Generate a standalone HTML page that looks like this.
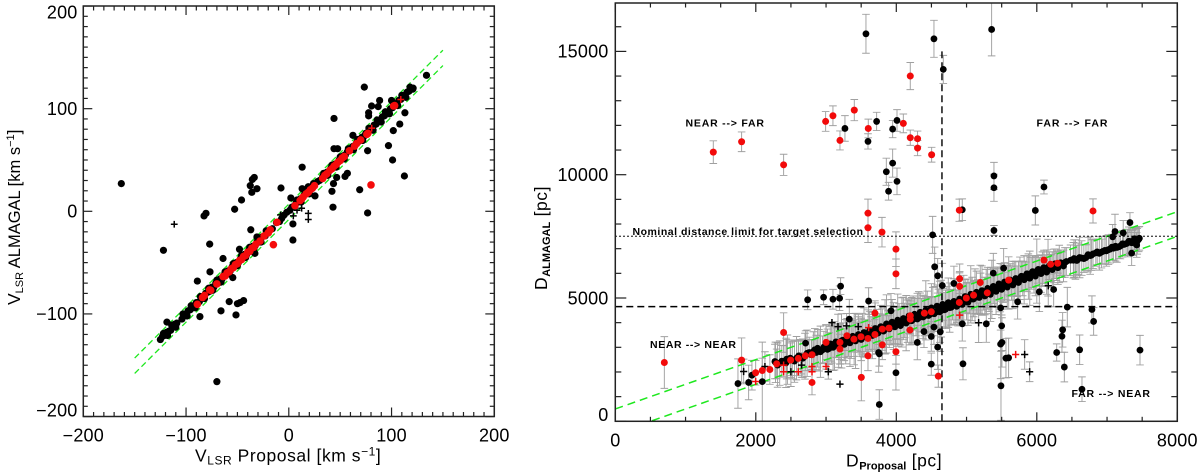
<!DOCTYPE html>
<html lang="en">
<head>
<meta charset="utf-8">
<title>VLSR and distance comparison</title>
<style>
html,body{margin:0;padding:0;background:#fff;width:1200px;height:476px;overflow:hidden}
svg{display:block;filter:blur(.35px)}
text{font-family:"Liberation Sans",sans-serif;fill:#000}
.tick{font-size:18px;letter-spacing:.2px}
.title{font-size:17.5px;letter-spacing:.55px}
.title-tight{font-size:17.5px;letter-spacing:0}
.note{font-size:10.5px;font-weight:bold}
</style>
</head>
<body>
<svg id="chart" xmlns="http://www.w3.org/2000/svg" width="1200" height="476" viewBox="0 0 1200 476">
  <defs>
    <clipPath id="clip-left"><rect x="83.3" y="6" width="411" height="410.5"/></clipPath>
    <clipPath id="clip-right"><rect x="615.3" y="3" width="562" height="418.3"/></clipPath>
  </defs>
  <g id="left-panel">
    <g id="left-lines" clip-path="url(#clip-left)"></g>
    <g id="left-points" clip-path="url(#clip-left)"></g>
    <rect x="83.3" y="6" width="411" height="410.5" fill="none" stroke="#222" stroke-width="1.5"/>
    <g id="left-ticks"></g>
    <text class="title" x="195" y="461.5">V<tspan font-size="12" dy="3">LSR</tspan><tspan dy="-3"> Proposal [km s</tspan><tspan font-size="12" dy="-6">−1</tspan><tspan dy="6">]</tspan></text>
    <text class="title-tight" transform="translate(20,305) rotate(-90)" x="0" y="0">V<tspan font-size="11" dy="3">LSR</tspan><tspan font-size="16.5" dy="-3"> ALMAGAL [km s</tspan><tspan font-size="11" dy="-6">−1</tspan><tspan dy="6">]</tspan></text>
  </g>
  <g id="right-panel">
    <g id="right-bars" clip-path="url(#clip-right)"></g>
    <g id="right-lines" clip-path="url(#clip-right)"></g>
    <g id="right-points" clip-path="url(#clip-right)"></g>
    <rect x="615.3" y="3" width="562" height="418.3" fill="none" stroke="#222" stroke-width="1.5"/>
    <g id="right-ticks"></g>
    <text class="note" x="685.5" y="126.5" textLength="78.5">NEAR --&gt; FAR</text>
    <text class="note" x="1036.5" y="126.5" textLength="71">FAR --&gt; FAR</text>
    <text class="note" x="650" y="348" textLength="86">NEAR --&gt; NEAR</text>
    <text class="note" x="1071.5" y="397" textLength="78.5">FAR --&gt; NEAR</text>
    <text class="note" x="632.5" y="235" textLength="230.5">Nominal distance limit for target selection</text>
    <text class="title" x="846" y="466.7">D<tspan font-size="11" font-weight="bold" letter-spacing="0" dy="3">Proposal</tspan><tspan dy="-3"> [pc]</tspan></text>
    <text class="title" transform="translate(547,290) rotate(-90)" x="0" y="0">D<tspan font-size="11" font-weight="bold" letter-spacing="0" dy="3">ALMAGAL</tspan><tspan dy="-3"> [pc]</tspan></text>
  </g>
</svg>
<script>
// ---------- left panel data: velocities, km/s ----------
const velTickLabels = [-200, -100, 0, 100, 200];
const velBandProposal = [-125,-123,-121,-119,-117,-115,-113,-111,-109,-104,-102,-100,-98,-96,-94,-92,-90,-87,-85,-83,-81,-79,-77,-75,-73,-71,-69,-67,-65,-63,-61,-59,-57,-55,-53,-51,-49,-47,-45,-43,-41,-39,-37,-35,-33,-31,-29,-26,-23,-20,-16,-12,-9,-5,-2,1,3,5,7,9,11,13,15,17,19,21,23,25,28,30,33,35,37,39,41,43,45,47,49,51,53,55,57,60,62,64,66,68,71,73,75,77,79,81,83,85,87,89,91,93,95,97,99,101,103,105,107,109,111,113,115,117,119,121];
const velBandAlmagal = [-125,-122,-121,-118,-117,-116,-112,-110,-109,-105,-101,-100,-97,-96,-93,-93,-89,-88,-84,-84,-80,-79,-78,-74,-74,-70,-70,-66,-66,-62,-62,-58,-58,-54,-54,-50,-50,-46,-46,-42,-42,-38,-38,-34,-34,-30,-30,-25,-24,-19,-17,-11,-10,-4,-1,1,4,5,8,9,12,13,16,17,20,21,24,25,29,30,34,35,38,39,42,43,46,47,50,51,54,55,58,60,63,64,67,68,72,73,76,77,80,81,84,85,88,89,92,93,96,97,100,101,104,105,108,109,112,113,116,117,120,120];
const velBand2Proposal = [-122,-118,-114,-110,-103,-99,-95,-91,-86,-82,-78,-74,-70,-66,-62,-58,-54,-50,-46,-42,-38,-34,-30,-27,-22,8,12,16,20,24,34,38,42,46,50,54,58,63,67,72,78,82,86,90,94,98,102,106,110,114,118];
const velBand2Almagal = [-119,-121,-111,-113,-100,-102,-92,-94,-83,-85,-75,-77,-67,-69,-59,-61,-51,-53,-43,-45,-35,-37,-27,-30,-19,11,9,19,17,27,37,35,45,43,53,51,61,60,70,69,81,79,89,87,97,95,105,103,113,111,121];
const velOutProposal = [-163,-122,-118.6,-70,-89,-86.5,-82.5,-80.6,-77,-76.7,-66,-64,-58,-54.5,-52.7,-51.4,-50,-47.5,-44,-48,-46,-37.5,-36,-35.5,-33.6,-31,-37,-33,-31,-7.6,-7,2,4,4,13,13,19,25.5,43,42,43.5,44,44,47.5,46.6,54.7,57,62.4,69,73.5,76.7,76.7,77.7,77.7,80.6,87,88.4,97,100,101.7,101,108,113,112.5,134,120.6];
const velOutAlmagal = [27,-38,-108,-166,-68,-102.6,-4.5,-2,-32,-59,-97,-46,-88,-64.6,2,-101,-90,-89,-87,-37,11,25,18.5,31,33,22,-18,-41,-25,22.7,-7,13,-12.3,-28,43,22,24,15,4,19.5,27,90.5,61,61,33,34,37,74,21,121,59,-1.6,93,96,102.6,102,108,64,108,78.6,50,85,96,34.4,132.5,119];
const velCrossProposal = [-111.5,19,19,12.5,4.4,-2,-8,8];
const velCrossAlmagal = [-12.6,-2,-8,3,-4.5,-2,-3.5,1];
const velRedProposal = [-89,-84,-82,-77,-76,-70,-64,-62,-60,-58,-56,-54,-52,-50,-48,-46,-44,-42,-40,-38,-36,-34,-32,-28,-24,-20,-18,-11.5,-15,6,11,12.5,14,17,19,21,23,25,33,35,37,40,42,44,46,48,50,52,54,59,64,66,70,76,77,102,103,80];
const velRedAlmagal = [-90.6,-84,-82,-76.6,-77,-70.8,-63.6,-63,-60,-59,-56,-55,-52,-51,-48,-47,-44,-43,-40,-39,-36,-35,-32,-29,-24,-21,-18,-10.7,-32.5,5.5,10.5,12,14,17,18.5,21,22.5,25,32,35,36.5,40,41.5,44,45.5,48,49.5,52,53.5,59,63.5,66,69.5,75,76,102.6,103,25.7];
const velRedCrossProposal = [80.7,109];
const velRedCrossAlmagal = [81,109];
const velLineOffsets = [7,-8];
const velLineEnds = [-150,150];

// ---------- right panel data: distances, pc ----------
const distXTickLabels = [0,2000,4000,6000,8000];
const distYTickLabels = [0,5000,10000,15000];
const distBandX = [2280,2340,2400,2450,2520,2580,2640,2700,2760,2820,
  2860,2900,2950,3000,3040,3080,3120,3160,3200,3240,
  3280,3320,3360,3400,3440,3480,3520,3560,3600,3640,
  3680,3720,3760,3800,3840,3880,3920,3960,4000,4040,
  4080,4120,4160,4200,4240,4280,4320,4360,4400,4440,
  4480,4520,4560,4600,4640,4680,4720,4760,4800,4840,
  4880,4920,4960,5000,5040,5080,5120,5160,5200,5240,
  5280,5320,5360,5400,5440,5480,5520,5560,5600,5640,
  5680,5720,5760,5800,5840,5880,5920,5960,6000,6040,
  6080,6120,6160,6200,6240,6280,6320,6360,6400,6520,
  6550,6590,6640,6700,6760,6800,6840,6890,6940,6990,
  7040,7090,7140,7190,7240,7290,7330,7370,7410,7450];
const distBandY = [2390,2360,2430,2500,2480,2560,2620,2640,2790,2830,
  2790,2880,2900,3020,2950,3120,3060,3180,3140,3290,
  3230,3250,3350,3330,3420,3380,3500,3470,3560,3540,
  3680,3640,3740,3720,3830,3800,3900,3860,3990,3950,
  4010,4090,4060,4160,4140,4230,4200,4300,4270,4380,
  4340,4450,4420,4500,4570,4520,4640,4610,4730,4700,
  4810,4780,4900,4870,5000,4960,5080,5040,5170,5130,
  5260,5210,5350,5310,5440,5420,5520,5490,5610,5590,
  5700,5680,5800,5790,5900,5870,6000,5960,6090,6060,
  6170,6130,6230,6210,6300,6290,6380,6350,6440,6530,
  6560,6590,6620,6640,6720,6790,6830,6810,6890,6910,
  6980,7020,7050,7110,7170,7230,7290,7250,7340,7380];
const distBandErr = [820,900,640,1000,760,880,700,930,620,800,
  700,840,560,900,640,760,980,600,820,700,
  900,620,800,1040,560,740,880,650,960,700,
  760,900,620,840,1100,680,780,950,640,820,
  1000,700,860,620,940,760,1060,680,800,900,
  720,980,640,860,1150,700,820,1000,620,780,
  940,680,1020,760,640,880,1100,700,840,620,
  900,760,1180,640,820,980,700,560,1060,680,
  780,620,860,700,560,920,640,760,1300,580,
  700,620,1150,540,680,580,760,520,600,720,
  800,640,700,520,760,600,540,680,500,620,
  560,480,600,520,440,560,480,520,460,500];
const distBand2X = [2310,2370,2430,2490,2550,2610,2670,2730,2790,2840,
  2880,2920,2970,3020,3060,3100,3140,3180,3220,3260,
  3300,3340,3380,3420,3460,3500,3540,3580,3620,3660,
  3700,3740,3780,3820,3860,3900,3940,3980,4020,4060,
  4100,4140,4180,4220,4260,4300,4340,4380,4420,4460,
  4500,4540,4580,4620,4660,4700,4740,4780,4820,4860,
  4900,4940,4980,5020,5060,5100,5140,5180,5220,5260,
  5300,5340,5380,5420,5460,5500,5540,5580,5620,5660,
  5700,5740,5780,5820,5860,5900,5940,5980,6020,6060,
  6100,6140,6180,6220,6260,6300,6340,6380,6420,6480,
  6530,6570,6610,6670,6730,6780,6860,6920,6970,7020,
  7070,7120,7170,7220,7270,7310,7350,7390,7430,7460];
const distBand2Y = [2280,2440,2370,2560,2440,2650,2560,2760,2700,2900,
  2960,2820,3010,2920,3140,3000,3220,3070,3260,3120,
  3370,3180,3450,3260,3520,3320,3600,3400,3680,3480,
  3760,3580,3840,3660,3950,3750,4020,3830,4100,3880,
  4170,3980,4270,4080,4340,4150,4420,4230,4500,4290,
  4600,4360,4670,4440,4740,4540,4810,4620,4860,4660,
  4960,4740,5060,4830,5150,4960,5230,5020,5300,5080,
  5390,5150,5470,5270,5570,5350,5650,5440,5730,5530,
  5790,5630,5880,5740,5980,5800,6070,5890,6160,5990,
  6230,6050,6310,6150,6390,6230,6430,6300,6480,6530,
  6600,6520,6640,6600,6760,6740,6870,6860,6930,6960,
  7060,7100,7080,7200,7200,7300,7240,7400,7300,7420];
const distBand2Err = [900,640,1000,700,860,640,780,940,620,860,
  760,1040,640,820,700,940,620,880,1100,660,
  800,960,640,1120,720,860,1000,660,780,940,
  1040,700,860,640,1180,760,920,680,1060,780,
  860,1120,700,940,640,1040,780,880,1200,720,
  980,700,860,1240,640,780,1000,720,920,660,
  1060,780,680,940,1160,720,860,640,1000,760,
  840,1100,700,940,640,1040,780,880,660,960,
  700,840,620,980,720,1100,640,800,560,760,
  640,900,560,720,600,680,520,640,560,620,
  760,620,820,560,700,620,520,640,560,600,
  520,600,480,540,460,580,500,440,520,480];
const distOutX = [3269,3568,3597,3720,3948,4010,3948,3858,3890,4010,4536,4669,5357,5390,5390,5390,4939,5979,6102,4517,
  1746,1898,1945,2092,2272,2439,2709,2738,2965,3098,3207,3193,3331,3606,3758,3749,3758,3924,3995,
  4546,4589,4655,4820,4394,4536,4498,4299,4626,4589,4498,4939,4949,5281,5381,5528,5485,5500,5485,5504,5490,5561,5599,5727,6036,6240,6434,6368,6358,6283,6392,6610,6785,6809,6643,7469,
  7113,7230,7080,7326,7422,7350];
const distOutY = [11875,15714,11350,12160,11850,12200,10470,10120,9330,9730,15510,14270,15890,9950,9470,7740,8580,8550,9500,7560,
  1530,1575,1870,1610,2425,2520,3170,4926,5030,4950,5480,4990,4143,4875,680,2790,2737,4480,1970,
  6265,5900,5507,5590,3640,3820,3440,3197,3630,3007,2318,3954,2332,3954,6010,6210,4600,3870,3130,3200,1440,2560,2575,4845,5250,5345,4630,3710,3450,2790,2200,2900,4535,4050,1300,2885,
  7695,7640,7480,8060,7150,6820];
const distOutErr = [520,790,310,370,350,440,570,550,360,540,750,570,1070,550,550,200,440,590,280,750,
  1000,700,600,1600,700,800,500,400,300,400,340,500,800,540,600,800,500,700,700,
  800,700,900,700,650,700,600,700,800,900,450,700,650,750,800,800,900,1000,1400,1000,1400,800,800,700,800,700,800,700,650,350,600,600,550,560,500,600,
  700,500,500,400,500,500];
const distRedX = [1395,1798,2396,2994,3098,3198,3402,3601,3597,3597,3796,4199,4100,4199,4303,4303,4503,4897,6800,
  3995,3995,698,1798,2396,3696,3800,3995,3502,3597,2800,1998,2092,2200,2297,2496,2605,2705,2800,3000,3198,3198,3298,3397,3497,3597,3696,3800,3895,
  4598,4902,4902,4897,4997,5100,5295,5195,5599,6102,6197,6297,4199,4199,4195,4399,4498];
const distRedY = [10915,11335,10400,12160,12390,11390,12620,11875,8440,7850,7670,14000,12080,11500,11460,11080,10810,8560,8530,
  6980,5980,2385,2480,3600,4385,3100,2820,1780,2656,1575,1970,2060,2100,2330,2480,2550,2656,2700,3200,3200,2930,3470,3330,3430,3360,3520,3740,3780,
  1830,5780,5470,4820,5000,5115,5210,5630,5725,6535,6370,6410,4140,4280,3700,4385,4440];
const distRedErr = [460,400,430,400,400,385,430,380,570,600,600,550,380,310,310,310,300,450,490,
  700,600,1050,900,800,500,600,500,950,600,500,500,500,600,600,700,700,600,600,700,700,600,600,700,600,700,600,600,500,
  450,600,600,700,600,600,600,700,600,400,400,400,600,600,600,600,600];
const distCrossX = [1827,2130,2500,2652,3032,3198,3084,3170,3293,3459,5172,5827,5898,6163];
const distCrossY = [2020,2220,2010,2280,2010,1507,4000,3840,3870,3840,3995,2710,2010,5495];
const distCrossErr = [500,600,600,500,300,0,0,500,500,500,800,600,400,800];
const distRedCrossX = [1998,2396,2396,2605,2800,2800,3000,3606,4902,5699];
const distRedCrossY = [1616,2280,2010,2010,2220,2010,2220,3800,4305,2710];
const distLineOffsets = [500,-500];
const distLineEnds = [0,8000];
const distLimit = [7500];
const distBoundary = [4650];
const boundaryTop = [15000];

const NS = 'http://www.w3.org/2000/svg';
const velX = v => 83.3 + (v + 200) * 411 / 400;
const velY = v => 211.3 - v * 410.5 / 400;
const distX = v => 615.3 + v * 0.07025;
const distY = v => 421.3 - v * 0.02466;
const minusSign = v => String(v).replace('-', '\u2212');

function addLine(parent, x1, y1, x2, y2, stroke, width, dash) {
  const el = document.createElementNS(NS, 'line');
  
  
  el.setAttribute('x1', x1);
  el.setAttribute('y1', y1);
  el.setAttribute('x2', x2);
  el.setAttribute('y2', y2);
  el.setAttribute('stroke', stroke);
  el.setAttribute('stroke-width', width);
  if (dash) el.setAttribute('stroke-dasharray', dash);
  parent.appendChild(el);
}
function addTick(parent, x1, y1, x2, y2) {
  const el = document.createElementNS(NS, 'line');
  
  
  el.setAttribute('x1', x1);
  el.setAttribute('y1', y1);
  el.setAttribute('x2', x2);
  el.setAttribute('y2', y2);
  el.setAttribute('stroke', '#222');
  el.setAttribute('stroke-width', 1.2);
  parent.appendChild(el);
}
function addLabel(parent, x, y, anchor, content) {
  const el = document.createElementNS(NS, 'text');
  
  
  el.setAttribute('class', 'tick');
  el.setAttribute('x', x);
  el.setAttribute('y', y);
  el.setAttribute('text-anchor', anchor);
  el.textContent = content;
  parent.appendChild(el);
}
function addDot(parent, x, y, r, fill) {
  const el = document.createElementNS(NS, 'circle');
  
  
  el.setAttribute('cx', x);
  el.setAttribute('cy', y);
  el.setAttribute('r', r);
  el.setAttribute('fill', fill);
  parent.appendChild(el);
}
function addCross(parent, x, y, h, stroke) {
  const el = document.createElementNS(NS, 'path');
  
  
  el.setAttribute('d', 'M' + (x - h) + ' ' + y + 'H' + (x + h) + 'M' + x + ' ' + (y - h) + 'V' + (y + h));
  el.setAttribute('stroke', stroke);
  el.setAttribute('stroke-width', 1.5);
  el.setAttribute('fill', 'none');
  parent.appendChild(el);
}
function addErrorBar(parent, x, y, err) {
  if (!err) return;
  const top = distY(y + err);
  const bottom = distY(y - err);
  const px = distX(x);
  const el = document.createElementNS(NS, 'path');
  
  
  el.setAttribute('d', 'M' + px + ' ' + top + 'V' + bottom + 'M' + (px - 3.8) + ' ' + top + 'H' + (px + 3.8) + 'M' + (px - 3.8) + ' ' + bottom + 'H' + (px + 3.8));
  el.setAttribute('stroke', '#a0a0a0');
  el.setAttribute('stroke-width', 0.95);
  el.setAttribute('fill', 'none');
  parent.appendChild(el);
}

// left panel
const leftLines = document.getElementById('left-lines');
const leftPoints = document.getElementById('left-points');
const leftTicks = document.getElementById('left-ticks');
velLineOffsets.forEach(off => {
  addLine(leftLines, velX(velLineEnds[0]), velY(velLineEnds[0] + off), velX(velLineEnds[1]), velY(velLineEnds[1] + off), '#1ee81e', 1.3, '6 3.6');
});
velOutProposal.forEach((v, i) => addDot(leftPoints, velX(v), velY(velOutAlmagal[i]), 3.6, '#000'));
velBandProposal.forEach((v, i) => addDot(leftPoints, velX(v), velY(velBandAlmagal[i]), 3.6, '#000'));
velBand2Proposal.forEach((v, i) => addDot(leftPoints, velX(v), velY(velBand2Almagal[i]), 3.6, '#000'));
velCrossProposal.forEach((v, i) => addCross(leftPoints, velX(v), velY(velCrossAlmagal[i]), 3.4, '#000'));
velRedProposal.forEach((v, i) => addDot(leftPoints, velX(v), velY(velRedAlmagal[i]), 3.8, '#f50b0b'));
velRedCrossProposal.forEach((v, i) => addCross(leftPoints, velX(v), velY(velRedCrossAlmagal[i]), 3.4, '#f50b0b'));
for (let v = -200; v <= 200; v += 10) {
  const major = v % 100 === 0;
  const len = major ? 9 : 4.5;
  addTick(leftTicks, velX(v), 416.5, velX(v), 416.5 - len);
  addTick(leftTicks, velX(v), 6, velX(v), 6 + len);
  addTick(leftTicks, 83.3, velY(v), 83.3 + len, velY(v));
  addTick(leftTicks, 494.3, velY(v), 494.3 - len, velY(v));
}
velTickLabels.forEach(v => {
  addLabel(leftTicks, velX(v), 441.5, 'middle', minusSign(v));
  addLabel(leftTicks, 77.5, Math.min(416.7, Math.max(18.5, velY(v) + 6.3)), 'end', minusSign(v));
});

// right panel
const rightBars = document.getElementById('right-bars');
const rightLines = document.getElementById('right-lines');
const rightPoints = document.getElementById('right-points');
const rightTicks = document.getElementById('right-ticks');
distBandX.forEach((v, i) => addErrorBar(rightBars, v, distBandY[i], distBandErr[i]));
distBand2X.forEach((v, i) => addErrorBar(rightBars, v, distBand2Y[i], distBand2Err[i]));
distOutX.forEach((v, i) => addErrorBar(rightBars, v, distOutY[i], distOutErr[i]));
distRedX.forEach((v, i) => addErrorBar(rightBars, v, distRedY[i], distRedErr[i]));
distCrossX.forEach((v, i) => addErrorBar(rightBars, v, distCrossY[i], distCrossErr[i]));
distLineOffsets.forEach(off => {
  addLine(rightLines, distX(distLineEnds[0]), distY(distLineEnds[0] + off), distX(distLineEnds[1]), distY(distLineEnds[1] + off), '#1ee81e', 1.5, '8 5');
});
addLine(rightLines, distX(0), distY(distLimit[0]), distX(8000), distY(distLimit[0]), '#000', 1.4, '1.4 2.6');
addLine(rightLines, distX(0), distY(distBoundary[0]), distX(8000), distY(distBoundary[0]), '#000', 1.4, '7 4');
addLine(rightLines, distX(distBoundary[0]), distY(0), distX(distBoundary[0]), distY(boundaryTop[0]), '#000', 1.4, '7 4');
distOutX.forEach((v, i) => addDot(rightPoints, distX(v), distY(distOutY[i]), 3.4, '#000'));
distBandX.forEach((v, i) => addDot(rightPoints, distX(v), distY(distBandY[i]), 3.4, '#000'));
distBand2X.forEach((v, i) => addDot(rightPoints, distX(v), distY(distBand2Y[i]), 3.4, '#000'));
distCrossX.forEach((v, i) => addCross(rightPoints, distX(v), distY(distCrossY[i]), 3.6, '#000'));
distRedX.forEach((v, i) => addDot(rightPoints, distX(v), distY(distRedY[i]), 3.5, '#f20a0a'));
distRedCrossX.forEach((v, i) => addCross(rightPoints, distX(v), distY(distRedCrossY[i]), 3.6, '#f20a0a'));
for (let v = 0; v <= 8000; v += 500) {
  const len = v % 2000 === 0 ? 9 : 4.5;
  addTick(rightTicks, distX(v), 421.3, distX(v), 421.3 - len);
  addTick(rightTicks, distX(v), 3, distX(v), 3 + len);
}
for (let v = 0; v <= 16000; v += 1000) {
  const len = v % 5000 === 0 ? 11 : 6;
  addTick(rightTicks, 615.3, distY(v), 615.3 + len, distY(v));
  addTick(rightTicks, 1177.3, distY(v), 1177.3 - len, distY(v));
}
distXTickLabels.forEach(v => addLabel(rightTicks, distX(v), 446.5, 'middle', String(v)));
distYTickLabels.forEach(v => addLabel(rightTicks, 608.5, Math.min(421, distY(v) + 6.3), 'end', String(v)));
</script>
</body>
</html>
